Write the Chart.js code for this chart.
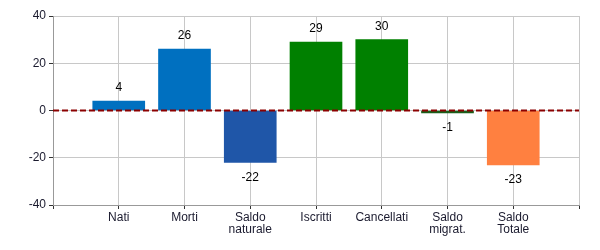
<!DOCTYPE html>
<html>
<head>
<meta charset="utf-8">
<script src="https://cdn.jsdelivr.net/npm/chart.js@4"></script>
<style>
html,body{margin:0;padding:0;background:#fff;}
#wrap{width:600px;height:250px;position:relative;}
</style>
</head>
<body>
<div id="wrap"><canvas id="c" width="600" height="250"></canvas></div>
<script>
const categories = ['Nati', 'Morti', ['Saldo', 'naturale'], 'Iscritti', 'Cancellati', ['Saldo', 'migrat.'], ['Saldo', 'Totale']];
const values = [4, 26, -22, 29, 30, -1, -23];
const barColors = ['#0070c0', '#0070c0', '#1f56a8', '#008000', '#008000', '#1a5e1a', '#ff8040'];
const yTicks = [-40, -20, 0, 20, 40];

const labels = [''].concat(categories, ['']);
const barData = [null].concat(values, [null]);
const colors = ['#fff'].concat(barColors, ['#fff']);
const zeroLine = labels.map(() => 0);

const valueLabels = {
  id: 'valueLabels',
  afterDatasetsDraw(chart) {
    const ctx = chart.ctx;
    const meta = chart.getDatasetMeta(0);
    ctx.save();
    ctx.font = '12px "Liberation Sans", Arial, sans-serif';
    ctx.fillStyle = '#000';
    ctx.textAlign = 'center';
    ctx.textBaseline = 'middle';
    meta.data.forEach((el, i) => {
      const v = barData[i];
      if (v === null || v === undefined) return;
      const y = v >= 0 ? el.y - 13 : el.y + 15;
      ctx.fillText(String(v), el.x, y);
    });
    ctx.restore();
  }
};

Chart.defaults.font.family = '"Liberation Sans", Arial, sans-serif';
Chart.defaults.font.size = 12;
Chart.defaults.color = '#1a1a2e';

new Chart(document.getElementById('c'), {
  data: {
    labels: labels,
    datasets: [
      {
        type: 'bar',
        data: barData,
        backgroundColor: colors,
        borderWidth: 0,
        barThickness: 52,
        order: 2
      },
      {
        type: 'line',
        data: zeroLine,
        borderColor: '#8b0000',
        borderWidth: 2,
        borderDash: [6, 3],
        pointRadius: 0,
        fill: false,
        order: 1
      }
    ]
  },
  options: {
    responsive: false,
    animation: false,
    events: [],
    layout: { padding: { left: 0, right: 21, top: 16, bottom: 0 } },
    plugins: { legend: { display: false }, tooltip: { enabled: false } },
    scales: {
      x: {
        type: 'category',
        offset: false,
        grid: { color: '#c8c8c8', offset: false, tickLength: 4, tickColor: '#333', drawTicks: true },
        border: { color: '#999', width: 1 },
        ticks: { autoSkip: false, maxRotation: 0, minRotation: 0, padding: 2, color: '#1a1a2e', font: { size: 12, lineHeight: 1.05 } },
        afterFit(s) { s.height = 45; }
      },
      y: {
        min: -40, max: 40,
        afterBuildTicks(s) { s.ticks = yTicks.map(v => ({ value: v })); },
        grid: { color: '#c8c8c8', tickLength: 4, tickColor: '#333' },
        border: { color: '#999', width: 1 },
        ticks: { padding: 3, color: '#1a1a2e', font: { size: 12 } },
        afterFit(s) { s.width = 53; }
      }
    }
  },
  plugins: [valueLabels]
});
</script>
</body>
</html>
